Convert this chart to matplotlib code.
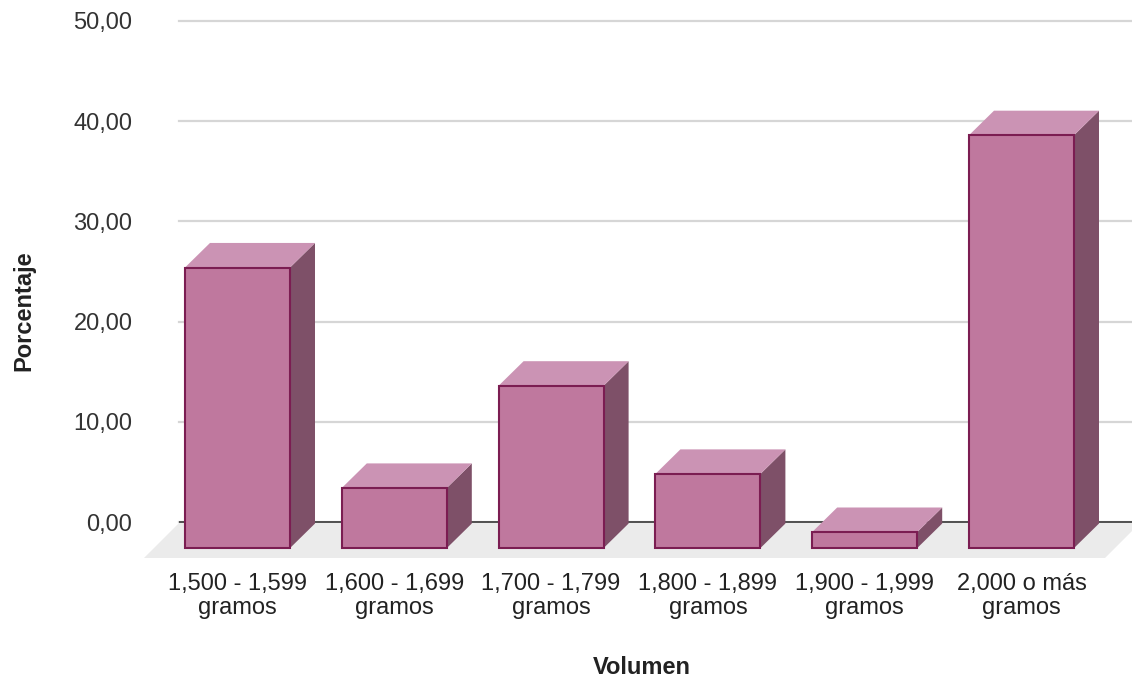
import matplotlib
matplotlib.use('Agg')
import matplotlib.pyplot as plt
from matplotlib.patches import Polygon

categories = ["1,500 - 1,599\ngramos", "1,600 - 1,699\ngramos", "1,700 - 1,799\ngramos",
              "1,800 - 1,899\ngramos", "1,900 - 1,999\ngramos", "2,000 o más\ngramos"]
percent = [28.0, 6.0, 16.2, 7.4, 1.6, 41.2]
y_ticks = [0, 10, 20, 30, 40, 50]
y_tick_labels = ["0,00", "10,00", "20,00", "30,00", "40,00", "50,00"]

W, H = 1132, 679
plt.rcParams['font.family'] = ['Liberation Sans', 'DejaVu Sans']

fig = plt.figure(figsize=(W / 100, H / 100), dpi=100)
# axes box in pixels: left 179, right 1132, top 21, bottom 558
ax = fig.add_axes([179 / W, (H - 558) / H, (1132 - 179) / W, (558 - 21) / H])

step = 156.8            # px between categories
ax.set_xlim((179 - 237.5) / step, (1132 - 237.5) / step)
ax.set_ylim(-3.59, 50)

bar_w = 105 / step
depth_x = 25 / step     # 3d offset of the back face
depth_y = 2.45          # same offset, in y units
base = -2.6             # front faces stand this far below the zero line

for s in ax.spines.values():
    s.set_visible(False)

ax.set_yticks(y_ticks)
ax.set_yticklabels(y_tick_labels, color='#333333', fontsize=17)
ax.set_xticks(range(len(categories)))
ax.set_xticklabels(categories, color='#222222', fontsize=17, linespacing=1.08)
ax.tick_params(axis='y', length=0, pad=33.5)
ax.tick_params(axis='x', length=0, pad=11)
ax.grid(axis='y', color='#d6d6d6', linewidth=1.6, zorder=0, clip_on=False)
ax.grid(axis='x', visible=False)
ax.set_axisbelow(True)

# floor under the bars, it runs past the axes on the left
x0 = (144 - 237.5) / step
x1 = (1105 - 237.5) / step
ax.add_patch(Polygon([(x0, -3.59), (x1, -3.59), (x1 + 36 / step, 0), (x0 + 36 / step, 0)],
                     closed=True, facecolor='#ebebeb', edgecolor='none', zorder=1, clip_on=False))
ax.axhline(0, color='#444444', linewidth=1.3, zorder=2)

for i, v in enumerate(percent):
    left = i - bar_w / 2
    right = i + bar_w / 2
    top = base + v
    # right side
    ax.add_patch(Polygon([(right, base), (right + depth_x, base + depth_y),
                          (right + depth_x, top + depth_y), (right, top)],
                         closed=True, facecolor='#7e5068', edgecolor='none', zorder=3))
    # top face
    ax.add_patch(Polygon([(left, top), (left + depth_x, top + depth_y),
                          (right + depth_x, top + depth_y), (right, top)],
                         closed=True, facecolor='#cb93b4', edgecolor='none', zorder=3))
    # front
    ax.bar(i, v, bottom=base, width=bar_w, color='#bf789e', edgecolor='#7b1d52',
           linewidth=1.5, zorder=4)

fig.text(641.5 / W, 1 - 667 / H, "Volumen", fontsize=17, fontweight='bold', color='#222222',
         ha='center', va='center')
fig.text(24 / W, 1 - 311 / H, "Porcentaje", fontsize=17, fontweight='bold', color='#222222',
         rotation=90, ha='center', va='center')

fig.savefig('out.png', dpi=100)
